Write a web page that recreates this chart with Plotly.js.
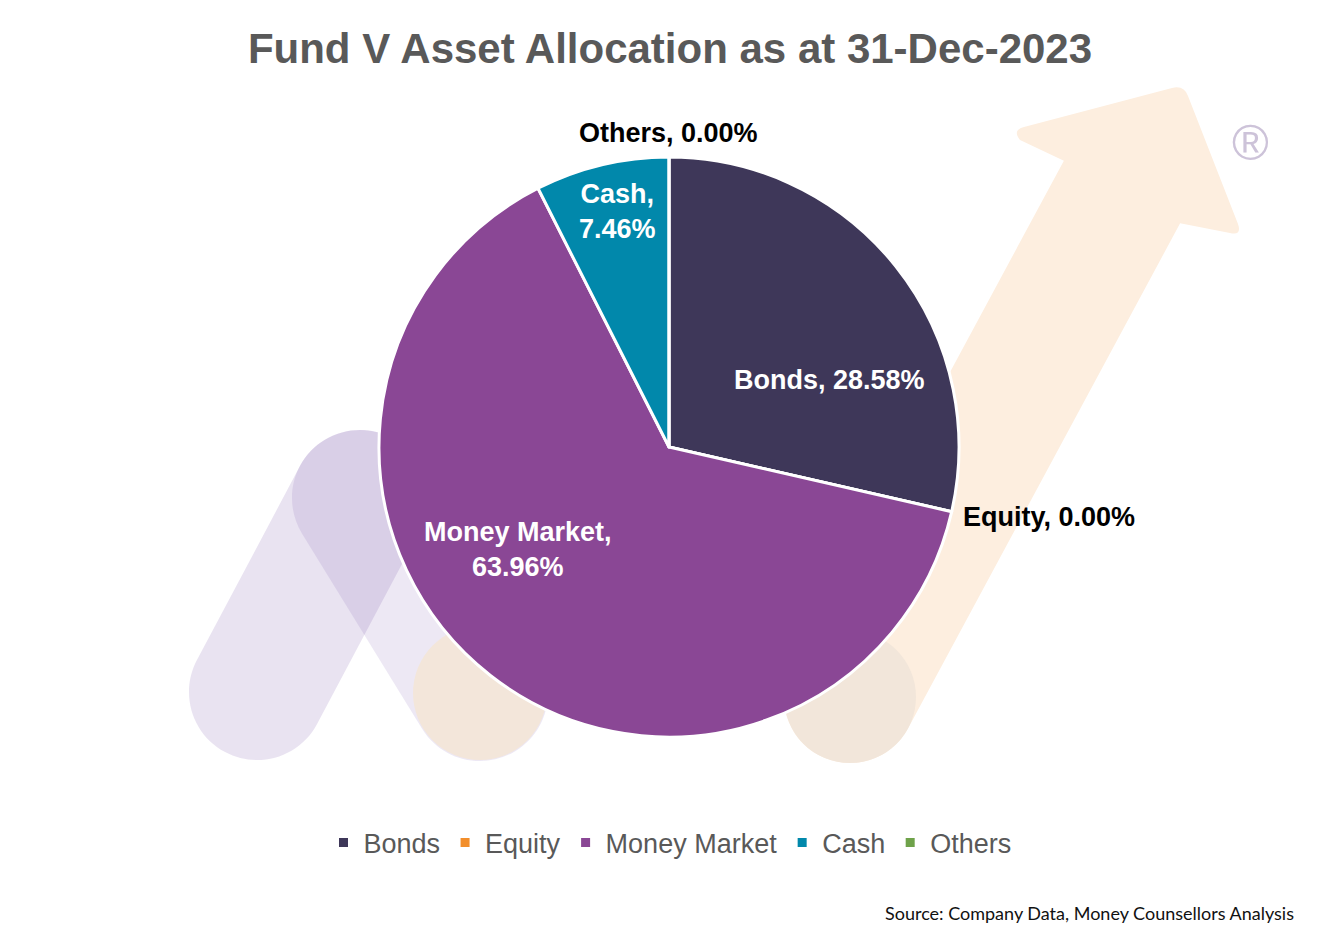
<!DOCTYPE html>
<html>
<head>
<meta charset="utf-8">
<script src="https://cdn.plot.ly/plotly-3.0.1.min.js"></script>
<style>
html, body { margin: 0; padding: 0; background: #fff; }
#chart { width: 1340px; height: 941px; }
</style>
</head>
<body>
<div id="chart"></div>
<script>
// data
var labels = ['Bonds', 'Equity', 'Money Market', 'Cash', 'Others'];
var values = [28.58, 0.00, 63.96, 7.46, 0.00];
var colors = ['#3E3759', '#F28E2B', '#8A4795', '#0188AB', '#6FA24A'];

var titleText = 'Fund V Asset Allocation as at 31-Dec-2023';
var sourceText = 'Source: Company Data, Money Counsellors Analysis';

// page geometry (pixels)
var W = 1340, H = 941;
var cx = 669, cy = 447, R = 290;
function px(x) { return x / W; }
function py(y) { return 1 - y / H; }

// label placement: radius fraction + angle nudge for slices, empty slices go outside
var labelR = [0.6, 0, 0.63, 0.83, 0];
var labelNudge = [16, 0, 18, 1, 0];
var labelBreak = [false, false, true, true, false];

var armFont = '"Liberation Sans", Arial, sans-serif';

var total = values.reduce(function (a, b) { return a + b; }, 0);
var annotations = [];
var cum = 0;
for (var i = 0; i < values.length; i++) {
    var v = values[i];
    var a0 = cum / total * 360;
    var a1 = (cum + v) / total * 360;
    cum += v;
    var txt = labels[i] + ',' + (labelBreak[i] ? '<br>' : ' ') + v.toFixed(2) + '%';
    var ang, r, xa = 'center', ya = 'middle', col = '#fff';
    if (v > 0) {
        ang = (a0 + a1) / 2 + labelNudge[i];
        r = labelR[i] * R;
    } else {
        ang = a0;
        r = R + 10;
        col = '#000';
        var s = Math.sin(ang * Math.PI / 180), c = Math.cos(ang * Math.PI / 180);
        if (s > 0.2) xa = 'left'; else if (s < -0.2) xa = 'right';
        if (c > 0.5) ya = 'bottom'; else if (c < -0.5) ya = 'top';
    }
    var rad = ang * Math.PI / 180;
    annotations.push({
        text: txt,
        x: px(cx + r * Math.sin(rad)),
        y: py(cy - r * Math.cos(rad) + (v > 0 ? 0 : 3)),
        xref: 'paper', yref: 'paper',
        xanchor: xa, yanchor: ya,
        showarrow: false,
        align: 'center',
        font: { family: armFont, size: 27, color: col, weight: 'bold' }
    });
}

annotations.push({
    text: sourceText,
    x: px(1296), y: py(913),
    xref: 'paper', yref: 'paper',
    xanchor: 'right', yanchor: 'middle',
    showarrow: false,
    font: { family: 'Lato, "Noto Sans", sans-serif', size: 18, color: '#111' }
});

annotations.push({
    text: '®',
    x: px(1250), y: py(143),
    xref: 'paper', yref: 'paper',
    xanchor: 'center', yanchor: 'middle',
    showarrow: false,
    font: { family: armFont, size: 50, color: '#CDC3D9' }
});

// watermark logo shapes
function pt(x, y) { return px(x).toFixed(5) + ',' + py(y).toFixed(5); }

function capsule(x1, y1, x2, y2, r) {
    var dx = x2 - x1, dy = y2 - y1, L = Math.sqrt(dx * dx + dy * dy);
    var ux = dx / L, uy = dy / L, nx = -uy, ny = ux, k = 0.5523 * r;
    return 'M' + pt(x1 + nx * r, y1 + ny * r) +
        ' L' + pt(x2 + nx * r, y2 + ny * r) +
        ' C' + pt(x2 + nx * r + ux * k, y2 + ny * r + uy * k) + ' ' + pt(x2 + ux * r + nx * k, y2 + uy * r + ny * k) + ' ' + pt(x2 + ux * r, y2 + uy * r) +
        ' C' + pt(x2 + ux * r - nx * k, y2 + uy * r - ny * k) + ' ' + pt(x2 - nx * r + ux * k, y2 - ny * r + uy * k) + ' ' + pt(x2 - nx * r, y2 - ny * r) +
        ' L' + pt(x1 - nx * r, y1 - ny * r) +
        ' C' + pt(x1 - nx * r - ux * k, y1 - ny * r - uy * k) + ' ' + pt(x1 - ux * r - nx * k, y1 - uy * r - ny * k) + ' ' + pt(x1 - ux * r, y1 - uy * r) +
        ' C' + pt(x1 - ux * r + nx * k, y1 - uy * r + ny * k) + ' ' + pt(x1 + nx * r - ux * k, y1 + ny * r - uy * k) + ' ' + pt(x1 + nx * r, y1 + ny * r) +
        ' Z';
}

function arrow() {
    var Bx = 850, By = 697, Tx = 1122, Ty = 192, r = 66;
    var dx = Tx - Bx, dy = Ty - By, L = Math.sqrt(dx * dx + dy * dy);
    var ux = dx / L, uy = dy / L, nx = -uy, ny = ux, k = 0.5523 * r;
    return 'M' + pt(Bx - nx * r, By - ny * r) +
        ' L' + pt(Tx - nx * r, Ty - ny * r) +
        ' L' + pt(1020, 140) + ' Q' + pt(1012, 130) + ' ' + pt(1024, 127) +
        ' L' + pt(1172, 88) + ' Q' + pt(1184, 85) + ' ' + pt(1188, 96) +
        ' L' + pt(1238, 224) + ' Q' + pt(1242, 236) + ' ' + pt(1230, 233) +
        ' L' + pt(Tx + nx * r, Ty + ny * r) +
        ' L' + pt(Bx + nx * r, By + ny * r) +
        ' C' + pt(Bx + nx * r - ux * k, By + ny * r - uy * k) + ' ' + pt(Bx - ux * r + nx * k, By - uy * r + ny * k) + ' ' + pt(Bx - ux * r, By - uy * r) +
        ' C' + pt(Bx - ux * r - nx * k, By - uy * r - ny * k) + ' ' + pt(Bx - nx * r - ux * k, By - ny * r - uy * k) + ' ' + pt(Bx - nx * r, By - ny * r) +
        ' Z';
}

function circle(x, y, r, fill) {
    return {
        type: 'circle', xref: 'paper', yref: 'paper', layer: 'below',
        x0: px(x - r), x1: px(x + r), y0: py(y + r), y1: py(y - r),
        fillcolor: fill, line: { width: 0 }
    };
}

var shapes = [
    { type: 'path', xref: 'paper', yref: 'paper', layer: 'below', path: capsule(257, 692, 360, 498, 68),
      fillcolor: 'rgba(108,68,162,0.15)', line: { width: 0 } },
    { type: 'path', xref: 'paper', yref: 'paper', layer: 'below', path: capsule(360, 498, 480, 693, 68),
      fillcolor: 'rgba(108,68,162,0.12)', line: { width: 0 } },
    circle(480, 693, 67, '#F3E6DA'),
    { type: 'path', xref: 'paper', yref: 'paper', layer: 'below', path: arrow(),
      fillcolor: '#FDEEDF', line: { width: 0 } },
    circle(850, 697, 66, '#F2E6DA')
];

var trace = {
    type: 'pie',
    labels: labels,
    values: values,
    marker: { colors: colors, line: { color: '#fff', width: 3 } },
    sort: false,
    direction: 'clockwise',
    rotation: 0,
    textinfo: 'none',
    hoverinfo: 'label+percent',
    domain: { x: [px(cx - R), px(cx + R)], y: [py(cy + R), py(cy - R)] }
};

var layout = {
    width: W,
    height: H,
    margin: { l: 0, r: 0, t: 0, b: 0 },
    paper_bgcolor: '#fff',
    title: {
        text: titleText,
        x: 0.5, xanchor: 'center',
        y: py(48), yanchor: 'middle', yref: 'container',
        font: { family: armFont, size: 42, color: '#595959', weight: 'bold' }
    },
    showlegend: true,
    legend: {
        orientation: 'h',
        x: 0.5, xanchor: 'center',
        y: py(843), yanchor: 'middle',
        traceorder: 'normal',
        font: { family: armFont, size: 27, color: '#595959' }
    },
    annotations: annotations,
    shapes: shapes
};

Plotly.newPlot('chart', [trace], layout, { displayModeBar: false });
</script>
</body>
</html>
